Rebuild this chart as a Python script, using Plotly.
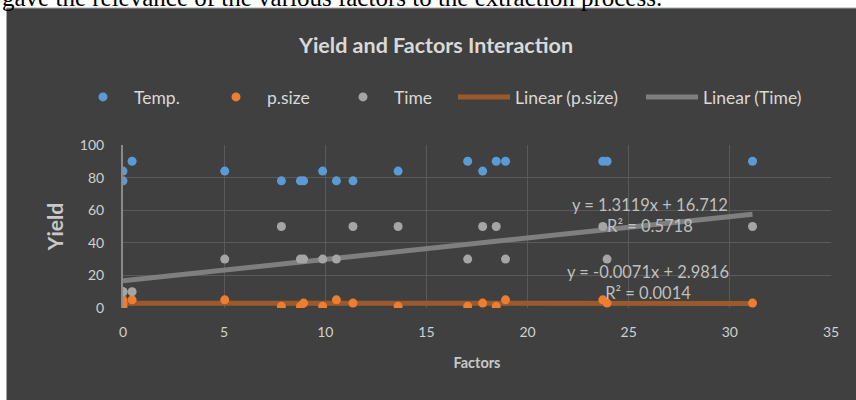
import plotly.graph_objects as go

# ---- data ----
temp_x = [0, 0, 0.45, 5.03, 7.83, 8.77, 8.93, 9.87, 10.55, 11.37, 13.6, 17.04, 17.78, 18.45, 18.91, 23.72, 23.93, 31.12]
temp_y = [84, 78, 90, 84, 78, 78, 78, 84, 78, 78, 84, 90, 84, 90, 90, 90, 90, 90]

psize_x = [0, 0, 0, 0.45, 5.03, 7.83, 8.77, 8.93, 9.87, 10.55, 11.37, 13.6, 17.04, 17.78, 18.45, 18.91, 23.72, 23.93, 31.12]
psize_y = [1, 3, 5, 5, 5, 1, 1, 3, 1, 5, 3, 1, 1, 3, 1, 5, 5, 3, 3]

time_x = [0, 0, 0.45, 5.03, 7.83, 8.77, 8.93, 9.87, 10.55, 11.37, 13.6, 17.04, 17.78, 18.45, 18.91, 23.72, 23.93, 31.12]
time_y = [10, 10, 10, 30, 50, 30, 30, 30, 30, 50, 50, 30, 50, 50, 30, 50, 30, 50]

# trendline coefficients shown on the chart
psize_slope, psize_intercept, psize_r2 = -0.0071, 2.9816, 0.0014
time_slope, time_intercept, time_r2 = 1.3119, 16.712, 0.5718

x_ticks = [0, 5, 10, 15, 20, 25, 30, 35]
y_ticks = [0, 20, 40, 60, 80, 100]

# ---- styling ----
W, H = 856, 400
ML, MR, MT, MB = 123, 25, 145, 92
PW, PH = W - ML - MR, H - MT - MB
BG = "#404040"
FONT = "Lato"
TXT = "#d9d9d9"


def px_to_paper_x(px):
    return (px - ML) / PW


def px_to_paper_y(py):
    return (H - py - MB) / PH


def trend(xs, m, b):
    lo, hi = min(xs), max(xs)
    return [lo, hi], [m * lo + b, m * hi + b]


fig = go.Figure()

tx, ty = trend(psize_x, psize_slope, psize_intercept)
fig.add_trace(go.Scatter(x=tx, y=ty, mode="lines", name="Linear (p.size)",
                         line=dict(color="#9c5a2c", width=5), legend="legend4", hoverinfo="skip"))
tx2, ty2 = trend(time_x, time_slope, time_intercept)
fig.add_trace(go.Scatter(x=tx2, y=ty2, mode="lines", name="Linear (Time)",
                         line=dict(color="#7f7f7f", width=5), legend="legend5", hoverinfo="skip"))

fig.add_trace(go.Scatter(x=temp_x, y=temp_y, mode="markers", name="Temp.",
                         marker=dict(color="#5b9bd5", size=9), legend="legend"))
fig.add_trace(go.Scatter(x=psize_x, y=psize_y, mode="markers", name="p.size",
                         marker=dict(color="#ed7d31", size=9), legend="legend2"))
fig.add_trace(go.Scatter(x=time_x, y=time_y, mode="markers", name="Time",
                         marker=dict(color="#a5a5a5", size=9), legend="legend3"))

leg_common = dict(orientation="h", xref="container", yref="container",
                  xanchor="left", yanchor="middle", y=1 - 97 / H,
                  bgcolor="rgba(0,0,0,0)", borderwidth=0, itemwidth=52,
                  font=dict(family=FONT, size=17.5, color=TXT))
legend_x = {"legend": 72, "legend2": 205, "legend3": 332, "legend4": 453, "legend5": 641}
legends = {k: dict(leg_common, x=v / W) for k, v in legend_x.items()}

eq_font = dict(family=FONT, size=16.5, color="#bfbfbf")
annotations = [
    dict(x=26.05, y=56.5, xref="x", yref="y", showarrow=False,
         text=f"y = {time_slope}x + {time_intercept}<br>R² = {time_r2}",
         font=eq_font, align="center"),
    dict(x=25.95, y=15.5, xref="x", yref="y", showarrow=False,
         text=f"y = {psize_slope}x + {psize_intercept}<br>R² = {psize_r2}",
         font=eq_font, align="center"),
    dict(x=px_to_paper_x(0), y=px_to_paper_y(13), xref="paper", yref="paper",
         xanchor="left", yanchor="bottom", showarrow=False,
         text="gave the relevance of the various factors to the extraction process.",
         font=dict(family="Liberation Serif", size=25, color="black")),
]

shapes = [
    dict(type="rect", xref="paper", yref="paper", layer="below",
         x0=px_to_paper_x(6.5), x1=px_to_paper_x(W + 5),
         y0=px_to_paper_y(H + 5), y1=px_to_paper_y(8),
         fillcolor=BG, line=dict(color="#a6a6a6", width=1)),
]

fig.update_layout(
    width=W, height=H, showlegend=True,
    margin=dict(l=ML, r=MR, t=MT, b=MB, autoexpand=False),
    paper_bgcolor="white", plot_bgcolor=BG,
    title=dict(text="<b>Yield and Factors Interaction</b>", x=436 / W, y=1 - 45 / H,
               xref="container", yref="container", xanchor="center", yanchor="middle",
               font=dict(family=FONT, size=21.5, color=TXT)),
    annotations=annotations,
    shapes=shapes,
    **legends,
    xaxis=dict(range=[0, 35], tickvals=x_ticks, ticktext=[str(v) for v in x_ticks],
               showgrid=True, gridcolor="#5a5a5a", gridwidth=1, zeroline=False,
               showline=False, ticks="", ticklabelstandoff=14,
               tickfont=dict(family=FONT, size=14, color="#d0d0d0"),
               title=dict(text="<b>Factors</b>", standoff=18,
                          font=dict(family=FONT, size=14.5, color="#c8c8c8"))),
    yaxis=dict(range=[0, 100], tickvals=y_ticks, ticktext=[str(v) for v in y_ticks],
               showgrid=True, gridcolor="#5a5a5a", gridwidth=1, zeroline=False,
               showline=True, linecolor="#8a8a8a", linewidth=2, ticks="", ticklabelstandoff=14,
               tickfont=dict(family=FONT, size=14, color="#d0d0d0"),
               title=dict(text="<b>Yield</b>", standoff=10,
                          font=dict(family=FONT, size=21, color="#c8c8c8"))),
)

fig.write_html("out.html", config={"displayModeBar": False},
               post_script="document.body.style.margin='0';")
